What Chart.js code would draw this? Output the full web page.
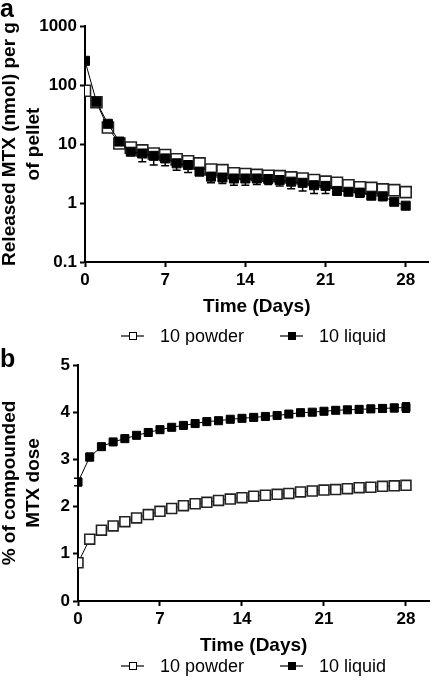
<!DOCTYPE html>
<html>
<head>
<meta charset="utf-8">
<script src="https://cdn.jsdelivr.net/npm/chart.js@4.4.1/dist/chart.umd.min.js"></script>
<style>
  body { margin: 0; background: #fff; }
  canvas { position: absolute; left: 0; }
  #chartA { top: 0; }
  #chartB { top: 345px; }
</style>
</head>
<body>
<canvas id="chartA" width="438" height="345"></canvas>
<canvas id="chartB" width="438" height="336"></canvas>
<script>
// sampling days
var days = [0, 1, 2, 3, 4, 5, 6, 7, 8, 9, 10, 11, 12, 13, 14, 15, 16, 17, 18, 19, 20, 21, 22, 23, 24, 25, 26, 27, 28];
var dayTicks = [0, 7, 14, 21, 28];
var seriesNames = ['10 powder', '10 liquid'];

// panel a: released MTX (nmol) per g of pellet, log scale
var releasedPowder = [80, 51, 19, 10.2, 8.7, 7.8, 6.9, 6.5, 5.5, 5.1, 4.7, 3.7, 3.6, 3.2, 3.1, 3.0, 2.9, 2.85, 2.72, 2.6, 2.45, 2.3, 2.2, 2.0, 1.85, 1.8, 1.7, 1.65, 1.53];
var releasedLiquid = [257, 52, 22, 11, 7.4, 6.9, 6.3, 5.7, 4.7, 4.4, 3.4, 2.8, 2.7, 2.6, 2.6, 2.6, 2.55, 2.45, 2.3, 2.2, 2.0, 1.95, 1.6, 1.55, 1.5, 1.33, 1.3, 1.05, 0.9];
var releasedLiquidErr = [0, 0, 0, 0, 0.8, 1.9, 1.9, 1.4, 1.1, 1.1, 0.4, 0.6, 0.55, 0.6, 0.6, 0.55, 0.5, 0.5, 0.55, 0.6, 0.55, 0.5, 0.2, 0.15, 0.25, 0.15, 0.2, 0, 0];
var logTicks = [0.1, 1, 10, 100, 1000];

// panel b: cumulative % of compounded MTX dose
var cumPowder = [0.81, 1.31, 1.50, 1.59, 1.68, 1.76, 1.83, 1.90, 1.96, 2.02, 2.06, 2.09, 2.13, 2.16, 2.19, 2.22, 2.24, 2.26, 2.28, 2.31, 2.33, 2.35, 2.36, 2.38, 2.40, 2.41, 2.43, 2.44, 2.45];
var cumLiquid = [2.52, 3.05, 3.27, 3.37, 3.44, 3.51, 3.57, 3.63, 3.68, 3.72, 3.76, 3.80, 3.82, 3.85, 3.87, 3.89, 3.91, 3.93, 3.96, 3.99, 4.00, 4.02, 4.04, 4.05, 4.06, 4.07, 4.08, 4.09, 4.10];
var cumLiquidErr = [0.08, 0.08, 0.05, 0.03, 0.03, 0.03, 0.03, 0.03, 0.03, 0.03, 0.03, 0.03, 0.03, 0.03, 0.03, 0.03, 0.03, 0.03, 0.04, 0.04, 0.05, 0.05, 0.06, 0.06, 0.07, 0.07, 0.08, 0.08, 0.1];
var linTicks = [0, 1, 2, 3, 4, 5];

var FONT = "'Liberation Sans', Arial, Helvetica, sans-serif";

function toPoints(vals) {
    return days.map(function (d, i) { return { x: d, y: vals[i] }; });
}

// vertical error bars, drawn under the markers
var errorBars = {
    id: 'errorBars',
    beforeDatasetsDraw: function (chart) {
        var ctx = chart.ctx;
        var yScale = chart.scales.y;
        chart.data.datasets.forEach(function (ds, i) {
            if (!ds.errors) return;
            var meta = chart.getDatasetMeta(i);
            ctx.save();
            ctx.strokeStyle = '#000';
            ctx.lineWidth = 1.5;
            meta.data.forEach(function (pt, j) {
                var e = ds.errors[j];
                if (!e) return;
                var v = ds.data[j].y;
                var lo = v - e;
                if (lo <= 0) lo = v / 2;
                var yTop = ds.errDown ? pt.y : yScale.getPixelForValue(v + e);
                var yBot = yScale.getPixelForValue(lo);
                ctx.beginPath();
                ctx.moveTo(pt.x, yTop); ctx.lineTo(pt.x, yBot);
                if (!ds.errDown) { ctx.moveTo(pt.x - 4, yTop); ctx.lineTo(pt.x + 4, yTop); }
                ctx.moveTo(pt.x - 4, yBot); ctx.lineTo(pt.x + 4, yBot);
                ctx.stroke();
            });
            ctx.restore();
        });
    }
};

// legend row under each panel + panel letter
var legendRow = {
    id: 'legendRow',
    afterDraw: function (chart, args, opts) {
        var ctx = chart.ctx;
        ctx.save();
        ctx.font = 'bold 25px ' + FONT;
        ctx.fillStyle = '#000';
        ctx.textBaseline = 'alphabetic';
        ctx.textAlign = 'left';
        ctx.fillText(opts.letter, 0, opts.letterY);

        var xs = [121, 280];
        var y = opts.y;
        chart.data.datasets.forEach(function (ds, i) {
            var x0 = xs[i];
            ctx.strokeStyle = '#000';
            ctx.lineWidth = 1.2;
            ctx.beginPath();
            ctx.moveTo(x0, y); ctx.lineTo(x0 + 23, y);
            ctx.stroke();
            ctx.fillStyle = ds.pointBackgroundColor;
            ctx.fillRect(x0 + 8, y - 4, 8, 8);
            ctx.lineWidth = 1;
            ctx.strokeRect(x0 + 8.5, y - 3.5, 7, 7);
            ctx.fillStyle = '#000';
            ctx.font = '18px ' + FONT;
            ctx.textBaseline = 'middle';
            ctx.fillText(ds.label, x0 + 39, y + 1);
        });
        ctx.restore();
    }
};

function makeChart(id, opt) {
    var ctx = document.getElementById(id);
    return new Chart(ctx, {
        type: 'line',
        data: {
            datasets: [{
                label: seriesNames[0],
                data: toPoints(opt.powder),
                order: 1,
                borderColor: '#000',
                borderWidth: 1,
                pointStyle: 'rect',
                pointRadius: opt.powderR,
                pointBorderColor: '#222',
                pointBorderWidth: 1.6,
                pointBackgroundColor: '#fff',
                tension: 0
            }, {
                label: seriesNames[1],
                data: toPoints(opt.liquid),
                errors: opt.liquidErr,
                errDown: opt.errDown,
                order: 0,
                borderColor: '#000',
                borderWidth: 1,
                pointStyle: 'rect',
                pointRadius: opt.liquidR,
                pointBorderColor: '#000',
                pointBorderWidth: 1,
                pointBackgroundColor: '#000',
                tension: 0
            }]
        },
        options: {
            responsive: false,
            animation: false,
            devicePixelRatio: 1,
            layout: { padding: opt.padding },
            plugins: {
                legend: { display: false },
                tooltip: { enabled: false },
                legendRow: { y: opt.legendY, letter: opt.letter, letterY: opt.letterY }
            },
            scales: {
                x: {
                    type: 'linear',
                    min: 0,
                    max: 30,
                    afterBuildTicks: function (s) { s.ticks = dayTicks.map(function (v) { return { value: v }; }); },
                    afterFit: function (s) { s.height = 56; },
                    grid: { display: true, drawOnChartArea: false, tickLength: 5, tickWidth: 2, tickColor: '#000' },
                    border: { color: '#000', width: 2 },
                    ticks: { color: '#000', padding: 3, maxRotation: 0, font: { family: FONT, size: 17, weight: 'bold' } },
                    title: { display: true, text: 'Time (Days)', color: '#000', padding: 0, font: { family: FONT, size: 19, weight: 'bold' } }
                },
                y: {
                    type: opt.yType,
                    min: opt.yMin,
                    max: opt.yMax,
                    afterBuildTicks: function (s) { s.ticks = opt.yTicks.map(function (v) { return { value: v }; }); },
                    afterFit: function (s) { s.width = opt.yWidth; },
                    grid: { display: true, drawOnChartArea: false, tickLength: 5, tickWidth: 2, tickColor: '#000' },
                    border: { color: '#000', width: 2 },
                    ticks: {
                        color: '#000', padding: 3,
                        font: { family: FONT, size: 17, weight: 'bold' },
                        callback: function (v) { return String(v); }
                    },
                    title: { display: true, text: opt.yTitle, color: '#000', padding: { top: -2, bottom: 0 }, font: { family: FONT, size: 19, weight: 'bold', lineHeight: 1.25 } }
                }
            }
        },
        plugins: [errorBars, legendRow]
    });
}

makeChart('chartA', {
    powder: releasedPowder, liquid: releasedLiquid, liquidErr: releasedLiquidErr, errDown: true,
    powderR: 7.8, liquidR: 6.4,
    yType: 'logarithmic', yMin: 0.1, yMax: 1000, yTicks: logTicks, yWidth: 85,
    yTitle: ['Released MTX (nmol) per g', 'of pellet'],
    padding: { top: 26, right: 1, bottom: 27, left: 0 },
    legendY: 336, letter: 'a', letterY: 17
});

makeChart('chartB', {
    powder: cumPowder, liquid: cumLiquid, liquidErr: cumLiquidErr, errDown: false,
    powderR: 7, liquidR: 5.7,
    yType: 'linear', yMin: 0, yMax: 5, yTicks: linTicks, yWidth: 78,
    yTitle: ['% of compounded', 'MTX dose'],
    padding: { top: 20, right: 6, bottom: 24, left: 0 },
    legendY: 321, letter: 'b', letterY: 22
});
</script>
</body>
</html>
